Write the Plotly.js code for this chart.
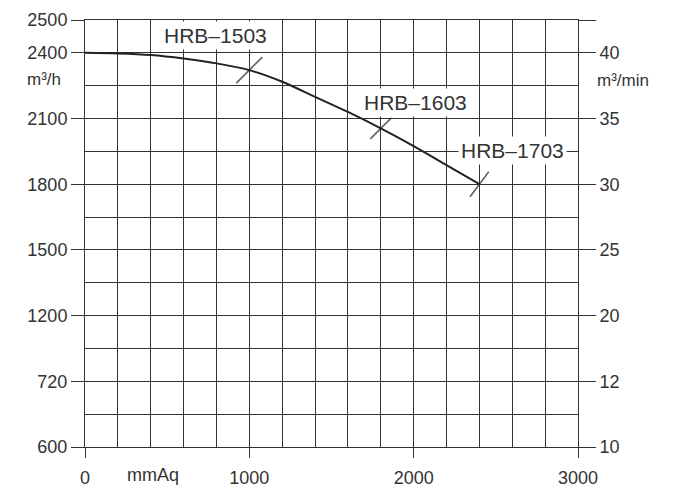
<!DOCTYPE html>
<html>
<head>
<meta charset="utf-8">
<script src="https://cdn.plot.ly/plotly-3.0.1.min.js"></script>
<style>html,body{margin:0;padding:0;background:#fff;}#chart{width:696px;height:489px;}</style>
</head>
<body>
<div id="chart"></div>
<script>
// Static pressure (mmAq) and air volume (m³/h)
const pressure = [0, 200, 400, 600, 800, 1000, 1200, 1400, 1600, 1800, 2000, 2200, 2400];
const flow = [2400, 2397, 2390, 2374, 2352, 2321, 2268, 2199, 2130, 2055, 1974, 1887, 1800];

// Model rating points on the curve
const models = ["HRB\u20131503", "HRB\u20131603", "HRB\u20131703"];
const modelPressure = [1000, 1800, 2400];

// Axis tick labels
const xTicks = [0, 1000, 2000, 3000];
const xTickText = ["0", "1000", "2000", "3000"];
const yTickVals = [600, 900, 1200, 1500, 1800, 2100, 2400, 2550];
const yTickText = ["600", "720", "1200", "1500", "1800", "2100", "2400", "2500"];
const y2TickText = ["10", "12", "20", "25", "30", "35", "40", ""];
const xUnit = "mmAq";
const yUnitLeft = "m\u00b3/h";
const yUnitRight = "m\u00b3/min";

const modelFlow = modelPressure.map(p => flow[pressure.indexOf(p)]);

const lineCol = '#333';
const txtCol = '#333';
const font = 'Liberation Sans, Arial, sans-serif';

const traces = [
  {x: pressure, y: flow, type: 'scatter', mode: 'lines',
   line: {color: '#222', width: 2, shape: 'spline', smoothing: 0.8},
   hoverinfo: 'skip', showlegend: false},
  {x: modelPressure, y: modelFlow, type: 'scatter', mode: 'markers',
   marker: {symbol: 'line-ne', size: [26, 21, 22], angle: [0, 0, -8],
            line: {color: '#222', width: 1.6}},
   hoverinfo: 'skip', showlegend: false},
  {x: [0], y: [flow[0] / 60], yaxis: 'y2', type: 'scatter', mode: 'markers',
   marker: {opacity: 0}, hoverinfo: 'skip', showlegend: false}
];

const shifts = [[-34, 35], [35, 26], [33, 34]];
const annotations = models.map((m, i) => ({
  x: modelPressure[i], y: modelFlow[i], xref: 'x', yref: 'y',
  text: m, showarrow: false, xshift: shifts[i][0], yshift: shifts[i][1],
  bgcolor: '#fff', borderpad: 2,
  font: {family: font, size: 21, color: txtCol}
}));
annotations.push({x: 414, y: 0, xref: 'x', yref: 'paper', yshift: -28, yanchor: 'middle',
  text: xUnit, showarrow: false, font: {family: font, size: 18, color: txtCol}});
annotations.push({x: -0.083, y: 2250, xref: 'paper', yref: 'y', yshift: 6, text: yUnitLeft,
  showarrow: false, xanchor: 'center', yanchor: 'middle',
  font: {family: font, size: 17, color: txtCol}});
annotations.push({x: 1.092, y: 2250, xref: 'paper', yref: 'y', yshift: 5, text: yUnitRight,
  showarrow: false, xanchor: 'center', yanchor: 'middle',
  font: {family: font, size: 17, color: txtCol}});

const layout = {
  width: 696, height: 489,
  margin: {l: 85, r: 118, t: 20, b: 42},
  paper_bgcolor: '#fff', plot_bgcolor: '#fff',
  font: {family: font, color: txtCol},
  showlegend: false,
  xaxis: {
    range: [0, 3000], tickmode: 'array', tickvals: xTicks, ticktext: xTickText,
    ticks: 'outside', ticklen: 10, tickcolor: lineCol, tickwidth: 1, ticklabelstandoff: 4,
    showgrid: true, gridcolor: lineCol, gridwidth: 1,
    minor: {tick0: 0, dtick: 200, showgrid: true, gridcolor: lineCol, gridwidth: 1, ticks: ''},
    zeroline: false, showline: true, linecolor: lineCol, linewidth: 1, mirror: true,
    tickfont: {family: font, size: 18, color: txtCol}, automargin: false, fixedrange: true
  },
  yaxis: {
    range: [600, 2550], tickmode: 'array', tickvals: yTickVals, ticktext: yTickText,
    ticks: 'outside', ticklen: 13, tickcolor: lineCol, tickwidth: 1,
    showgrid: true, gridcolor: lineCol, gridwidth: 1,
    minor: {tick0: 600, dtick: 150, showgrid: true, gridcolor: lineCol, gridwidth: 1, ticks: ''},
    zeroline: false, showline: true, linecolor: lineCol, linewidth: 1, mirror: true,
    tickfont: {family: font, size: 18, color: txtCol}, automargin: false, fixedrange: true
  },
  yaxis2: {
    overlaying: 'y', side: 'right', range: [10, 42.5], tickmode: 'array',
    tickvals: yTickVals.map(v => v / 60), ticktext: y2TickText,
    ticks: 'outside', ticklen: 17, tickcolor: lineCol, tickwidth: 1,
    showgrid: false, zeroline: false, showline: false,
    tickfont: {family: font, size: 18, color: txtCol}, automargin: false, fixedrange: true
  },
  annotations: annotations
};

Plotly.newPlot('chart', traces, layout, {staticPlot: true, displayModeBar: false});
</script>
</body>
</html>
